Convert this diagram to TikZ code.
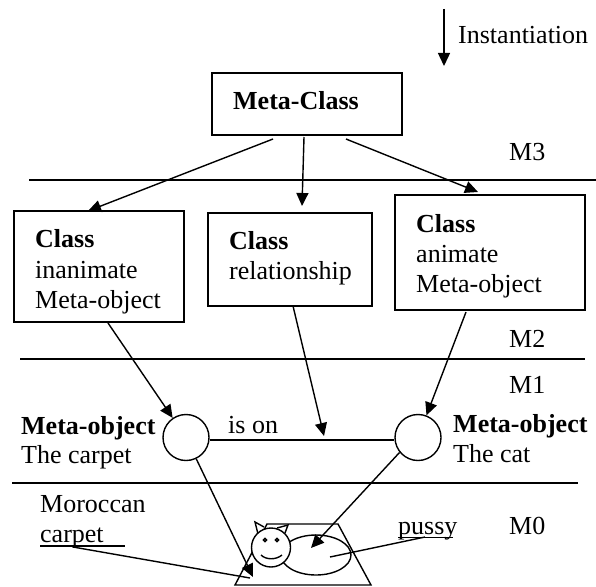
\documentclass[tikz,border=0pt]{standalone}
\usepackage{fontspec}
\setmainfont{Liberation Serif}
\usetikzlibrary{arrows.meta}
\tikzset{
 ln/.style={line width=1.4pt},
 ar/.style={line width=1.4pt,-{Triangle[length=13pt,width=12pt]}},
 boxn/.style={draw,line width=1.4pt,rectangle,inner sep=0pt},
 circ/.style={draw,line width=1.4pt,circle,inner sep=0pt},
 txt/.style={font=\fontsize{26}{30}\selectfont,anchor=base west,inner sep=0pt}
}
\begin{document}
\begin{tikzpicture}[x=1pt,y=-1pt]
\useasboundingbox (0,0) rectangle (596,586);
\fill[white] (0,0) rectangle (596,586);
% level lines
\coordinate (l3a) at (29,180); \coordinate (l3b) at (596,180);
\coordinate (l2a) at (20,359); \coordinate (l2b) at (585,359);
\coordinate (l1a) at (12,483); \coordinate (l1b) at (578,483);
\draw[ln] (l3a)--(l3b); \draw[ln] (l2a)--(l2b); \draw[ln] (l1a)--(l1b);
% instantiation
\coordinate (i1) at (444,9); \coordinate (i2) at (444,66);
\draw[ar] (i1)--(i2);
\node[txt] (inst) at (458,44) {Instantiation};
% boxes
\node[boxn,minimum width=190pt,minimum height=62pt] (mc) at (307,104) {};
\node[txt] (mct) at (233,109) {\textbf{Meta-Class}};
\node[boxn,minimum width=170pt,minimum height=111pt] (c1) at (99,266.5) {};
\node[boxn,minimum width=164pt,minimum height=93pt] (c2) at (290,259.5) {};
\node[boxn,minimum width=190pt,minimum height=115pt] (c3) at (490,252.5) {};
\node[txt] (c1a) at (35,247) {\textbf{Class}};
\node[txt] (c1b) at (35,278) {inanimate};
\node[txt] (c1c) at (35,308) {Meta-object};
\node[txt] (c2a) at (229,249) {\textbf{Class}};
\node[txt] (c2b) at (229,279) {relationship};
\node[txt] (c3a) at (416,232) {\textbf{Class}};
\node[txt] (c3b) at (416,262) {animate};
\node[txt] (c3c) at (416,292) {Meta-object};
% level labels
\node[txt] (m3) at (509,160) {M3};
\node[txt] (m2) at (509,347) {M2};
\node[txt] (m1) at (509,393) {M1};
\node[txt] (m0) at (509,534) {M0};
% meta-objects
\node[circ,minimum size=46pt] (o1) at (186,437.5) {};
\node[circ,minimum size=46pt] (o2) at (418,437.5) {};
\node[txt] (mo1) at (21,434) {\textbf{Meta-object}};
\node[txt] (mo1b) at (21,463) {The carpet};
\node[txt] (mo2) at (453,432) {\textbf{Meta-object}};
\node[txt] (mo2b) at (453,462) {The cat};
\node[txt] (ison) at (228,433) {is on};
\draw[ln] (o1.-6)--(o2.186);
% arrows
\coordinate (a1) at (273,139); \coordinate (a1e) at (88,211);
\coordinate (a2) at (304,137); \coordinate (a2e) at (302,206);
\coordinate (a3) at (346,139); \coordinate (a3e) at (478,192);
\draw[ar] (a1)--(a1e); \draw[ar] (a2)--(a2e); \draw[ar] (a3)--(a3e);
\coordinate (b1) at (108,323); \coordinate (b2) at (293,306); \coordinate (b2e) at (324,436);
\coordinate (b3) at (466,312);
\draw[ar] (b1)--(o1); \draw[ar] (b2)--(b2e); \draw[ar] (b3)--(o2);
% carpet
\coordinate (t1) at (267,524); \coordinate (t2) at (338,524);
\coordinate (t3) at (371,585); \coordinate (t4) at (235,585);
\draw[ln] (t1)--(t2)--(t3)--(t4)--cycle;
% cat
\draw[ln] (264,527)--(255,522)--(258,534);
\draw[ln] (277,528)--(288,525)--(285,533);
\draw[ln] (316,555) ellipse (35pt and 20pt);
\node[circ,fill=white,minimum width=38pt,minimum height=39pt] (head) at (271,547.5) {};
\draw[ln] (265,540) circle (1.7pt); \draw[ln] (277,540) circle (1.7pt);
\draw[ln] (261,555) .. controls (266,560) and (276,560) .. (282,555);
% arrows into the rug and the cat
\coordinate (ce) at (253,577); \coordinate (ke) at (311,548);
\draw[ar] (o1)--(ce); \draw[ar] (o2.219)--(ke);
% labels
\node[txt] (mor) at (40,512) {Moroccan};
\node[txt] (car) at (40,542) {carpet};
\node[txt] (pus) at (398,534) {pussy};
\coordinate (u1) at (40,546); \coordinate (u2) at (125,546);
\coordinate (p1) at (398,537.5); \coordinate (p2) at (453,537.5);
\draw[ln] (u1)--(u2); \draw[ln] (p1)--(p2);
\coordinate (u3) at (73,547); \coordinate (u4) at (250,578);
\coordinate (p3) at (425,537); \coordinate (p4) at (330,557);
\draw[ln] (u3)--(u4); \draw[ln] (p3)--(p4);
\end{tikzpicture}
\end{document}
